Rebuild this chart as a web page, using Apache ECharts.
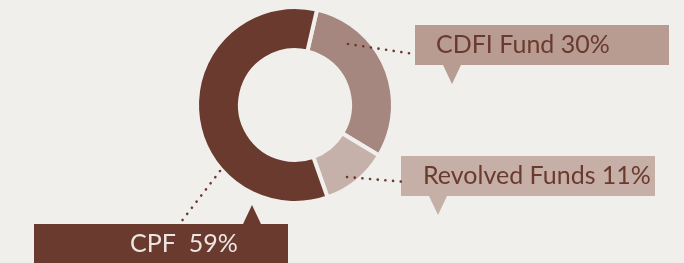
<!DOCTYPE html>
<html>
<head>
<meta charset="UTF-8">
<title>Funding sources</title>
<script src="https://cdn.jsdelivr.net/npm/echarts@6/dist/echarts.min.js"></script>
<style>
  html, body { margin: 0; padding: 0; background: #f0efec; }
  #main { width: 684px; height: 263px; }
</style>
</head>
<body>
<div id="main"></div>
<script type="text/javascript">
// data
var names = ['CDFI Fund', 'Revolved Funds', 'CPF'];
var shares = [30, 11, 59];

// look
var sliceColors = ['#a6877f', '#c6b1aa', '#6b3a2e'];
var boxColors = ['#b89b91', '#c6afa7', '#6b3a2e'];
var textColors = ['#6b3a2e', '#6b3a2e', '#ece6e2'];
var bg = '#f0efec';
var dotColor = '#6b3a2e';

// callout boxes: box left/top, text left padding, gap before the %, pointer (dir +1 below, -1 above), leader line
var boxes = [
  { x: 415, y: 25, pad: 21, gap: ' ', tipX: 452, dir: 1, line: [[348, 44], [414, 54]] },
  { x: 401, y: 156, pad: 22, gap: ' ', tipX: 438, dir: 1, line: [[347, 177], [406, 182]] },
  { x: 34, y: 224, pad: 96, gap: '  ', tipX: 252, dir: -1, line: [[220, 171], [181, 222]] }
];
var boxW = 254, boxH = 40;

var chart = echarts.init(document.getElementById('main'));

var pieData = names.map(function (n, i) {
  return {
    name: n,
    value: shares[i],
    itemStyle: { color: sliceColors[i] },
    label: {
      formatter: '{b}' + boxes[i].gap + '{c}%',
      backgroundColor: boxColors[i],
      color: textColors[i],
      padding: [0, 0, 0, boxes[i].pad],
      width: boxW - boxes[i].pad,
      height: boxH,
      lineHeight: boxH
    }
  };
});

// pointer triangles and dotted leaders, drawn above the ring
var extras = [];
boxes.forEach(function (b, i) {
  var baseY = b.dir > 0 ? b.y + boxH : b.y;
  extras.push({
    type: 'polygon',
    shape: { points: [[b.tipX - 9, baseY], [b.tipX + 9, baseY], [b.tipX, baseY + b.dir * 19]] },
    style: { fill: boxColors[i] },
    z: 10
  });
  extras.push({
    type: 'polyline',
    shape: { points: b.line },
    style: { stroke: dotColor, lineWidth: 2.6, lineDash: [0.1, 7.6], lineCap: 'round', fill: null },
    z: 10
  });
});

var option = {
  backgroundColor: bg,
  animation: false,
  graphic: extras,
  series: [{
    type: 'pie',
    center: [295, 105],
    radius: [55, 98],
    startAngle: 77,
    clockwise: true,
    avoidLabelOverlap: false,
    emphasis: { disabled: true },
    itemStyle: { borderColor: bg, borderWidth: 4 },
    label: {
      show: true,
      fontFamily: 'Lato',
      fontSize: 25,
      align: 'left'
    },
    labelLine: { show: false },
    labelLayout: function (p) {
      var b = boxes[p.dataIndex];
      return { x: b.x, y: b.y, align: 'left', verticalAlign: 'top' };
    },
    data: pieData
  }]
};

chart.setOption(option);
</script>
</body>
</html>
